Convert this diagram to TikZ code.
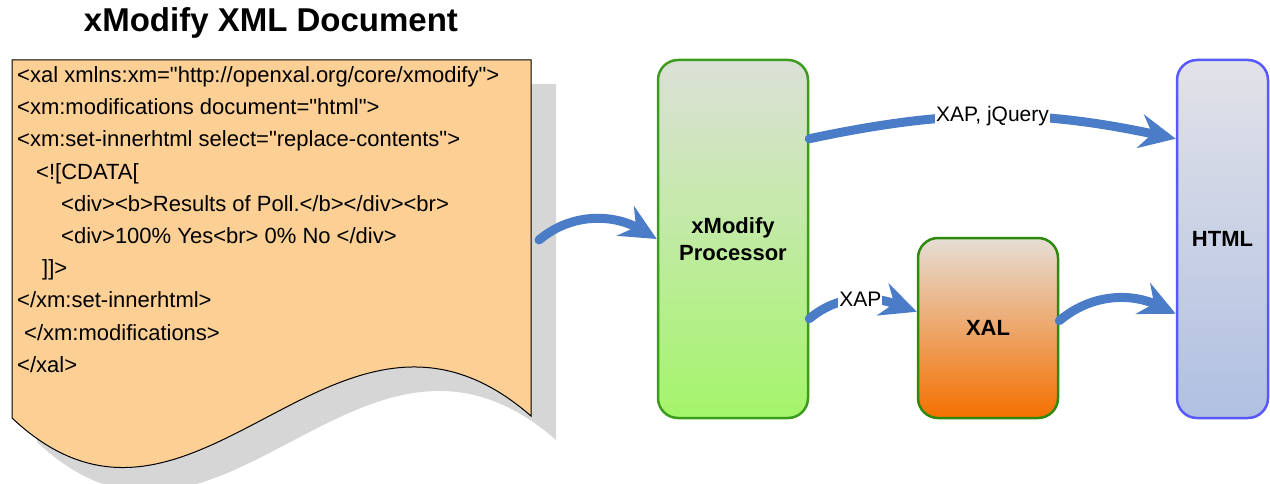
\documentclass[tikz,border=0pt]{standalone}
\usepackage{fontspec}
\setmainfont{Liberation Sans}[Ligatures=TeXOff]
\usetikzlibrary{arrows.meta,calc}
\definecolor{docfill}{HTML}{FCCF94}
\definecolor{shadowgray}{HTML}{D6D6D6}
\definecolor{flowblue}{HTML}{4A7CC7}
\definecolor{procedge}{HTML}{3C9C1C}
\definecolor{proctop}{HTML}{DCE0D8}
\definecolor{procbot}{HTML}{A4F56A}
\definecolor{xaledge}{HTML}{2E8A0E}
\definecolor{xaltop}{HTML}{E6DED6}
\definecolor{xalbot}{HTML}{F57000}
\definecolor{htmledge}{HTML}{5858FF}
\definecolor{htmltop}{HTML}{E2E2E8}
\definecolor{htmlbot}{HTML}{B0C0E2}
\begin{document}
\begin{tikzpicture}[x=1pt,y=-1pt,
  codeline/.style={anchor=base west, inner sep=0pt, font=\fontsize{22}{26}\selectfont},
  flow/.style={draw=flowblue, line width=9pt, line cap=round,
    -{Stealth[length=36pt,width=34pt,inset=12pt]}},
  lbl/.style={fill=white, inner sep=1pt, font=\fontsize{21}{25}\selectfont},
  stage/.style={rounded corners=20pt, line width=2.5pt, align=center, inner sep=0pt,
    font=\bfseries\fontsize{22}{27}\selectfont}]
\useasboundingbox (0,0) rectangle (1270,484);
% title
\node[font=\bfseries\fontsize{33}{38}\selectfont] (title) at (271,23) {xModify XML Document};
% document shadow and document
\fill[shadowgray, shift={(25,24)}] (12,60) -- (531,60) -- (531,416)
  .. controls (335,245) and (195,590) .. (12,418) -- cycle;
\filldraw[fill=docfill, draw=black, line width=1pt] (12,60) -- (531,60) -- (531,416)
  .. controls (335,245) and (195,590) .. (12,418) -- cycle;
\node[codeline] (l1) at (17,82.5) {<xal xmlns:xm="http://openxal.org/core/xmodify">};
\node[codeline] (l2) at (17,114.7) {<xm:modifications document="html">};
\node[codeline] (l3) at (17,146.9) {<xm:set-innerhtml select="replace-contents">};
\node[codeline] (l4) at (36,179.1) {<![CDATA[};
\node[codeline] (l5) at (61,211.3) {<div><b>Results of Poll.</b></div><br>};
\node[codeline] (l6) at (61,243.5) {<div>100\% Yes<br> 0\% No </div>};
\node[codeline] (l7) at (42,275.7) {]]>};
\node[codeline] (l8) at (17,307.9) {</xm:set-innerhtml>};
\node[codeline] (l9) at (24,340.1) {</xm:modifications>};
\node[codeline] (l10) at (17,372.3) {</xal>};
\coordinate (docport) at (539,240);
% stages
\node[stage, draw=procedge, top color=proctop, bottom color=procbot,
  minimum width=150pt, minimum height=358pt] (proc) at (733,239) {xModify\\Processor};
\node[stage, draw=xaledge, top color=xaltop, bottom color=xalbot,
  minimum width=140pt, minimum height=180pt] (xal) at (988,328) {XAL};
\node[stage, draw=htmledge, top color=htmltop, bottom color=htmlbot,
  minimum width=91pt, minimum height=358pt] (html) at (1222.5,239) {HTML};
% flows
\draw[flow] (docport) to[out=40,in=150] (proc.west);
\draw[flow] ([yshift=-80pt]proc.north east) to[out=12,in=168]
  node[lbl] {XAP, jQuery} ([yshift=-80pt]html.north west);
\draw[flow] ([yshift=-82pt]xal.north west -| proc.east) to[out=40,in=160]
  node[lbl, pos=0.5] {XAP} ([yshift=-75pt]xal.north west);
\draw[flow] ([yshift=-84pt]xal.north east) to[out=40,in=155] ([yshift=-255pt]html.north west);
\end{tikzpicture}
\end{document}
